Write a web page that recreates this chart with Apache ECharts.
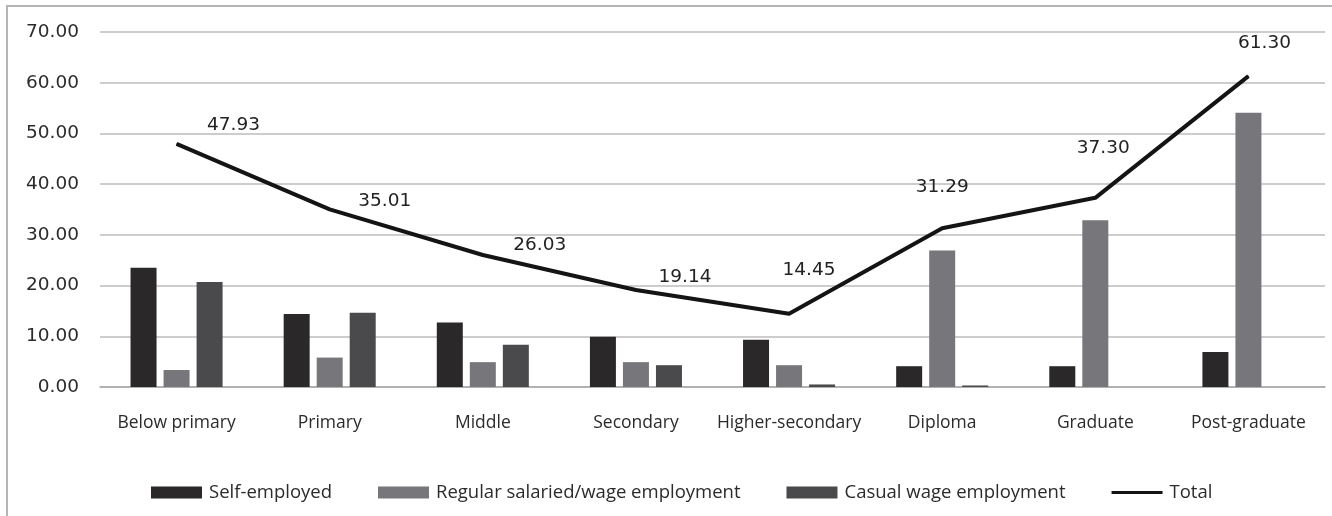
<!DOCTYPE html>
<html>
<head>
<meta charset="utf-8">
<script src="https://cdn.jsdelivr.net/npm/echarts@6/dist/echarts.min.js"></script>
<style>
  html, body { margin: 0; padding: 0; background: #fff; }
  #chart { width: 1332px; height: 516px; }
</style>
</head>
<body>
<div id="chart"></div>
<script>
// Employment share by education level
const categories = ['Below primary', 'Primary', 'Middle', 'Secondary', 'Higher-secondary', 'Diploma', 'Graduate', 'Post-graduate'];
const selfEmployed = [23.5, 14.4, 12.7, 9.9, 9.3, 4.1, 4.1, 6.9];
const regularSalaried = [3.35, 5.8, 4.9, 4.9, 4.3, 26.9, 32.9, 54.1];
const casualWage = [20.7, 14.65, 8.35, 4.3, 0.5, 0.3, 0, 0];
const total = [47.93, 35.01, 26.03, 19.14, 14.45, 31.29, 37.30, 61.30];
const yTicks = { min: 0, max: 70, step: 10 };

// where each Total value label sits relative to its point
const totalLabelShift = [[57, -19], [55, -8], [57, -10], [49, -13], [20, -44], [0, -41], [8, -50], [16, -33]];

const chart = echarts.init(document.getElementById('chart'));
const textColor = '#2b2b2b';

const barCommon = {
  type: 'bar',
  barWidth: 26,
  barGap: '27%',
  barCategoryGap: '40%'
};

chart.setOption({
  animation: false,
  backgroundColor: '#ffffff',
  graphic: [{
    type: 'polyline',
    shape: { points: [[7, 516], [7, 6], [1332, 6]] },
    style: { stroke: '#b5b5b5', lineWidth: 2, fill: null },
    silent: true
  }],
  grid: { left: 100, right: 7, top: 32, bottom: 129, containLabel: false },
  legend: {
    left: 146,
    top: 478,
    itemWidth: 51,
    itemHeight: 12,
    itemGap: 46,
    textStyle: { fontFamily: 'Open Sans', fontSize: 18.5, color: textColor, padding: [0, 0, 0, 2] },
    data: [
      { name: 'Self-employed', icon: 'rect' },
      { name: 'Regular salaried/wage employment', icon: 'rect' },
      { name: 'Casual wage employment', icon: 'rect' },
      { name: 'Total', icon: 'path://M0,0 L51,0 L51,3 L0,3 Z' }
    ]
  },
  xAxis: {
    type: 'category',
    data: categories,
    axisLine: { show: true, lineStyle: { color: '#a8a8a8', width: 1.5 } },
    axisTick: { show: false },
    axisLabel: { margin: 27, fontFamily: 'Open Sans', fontSize: 17.5, color: textColor, interval: 0 }
  },
  yAxis: {
    type: 'value',
    min: yTicks.min,
    max: yTicks.max,
    interval: yTicks.step,
    axisLine: { show: false },
    axisTick: { show: false },
    splitLine: { lineStyle: { color: '#bdbdbd', width: 1.5 } },
    axisLabel: {
      margin: 21,
      fontFamily: 'DejaVu Sans',
      fontSize: 18.5,
      color: textColor,
      formatter: v => v.toFixed(2)
    }
  },
  series: [
    Object.assign({}, barCommon, { name: 'Self-employed', data: selfEmployed, itemStyle: { color: '#2a2829' } }),
    Object.assign({}, barCommon, { name: 'Regular salaried/wage employment', data: regularSalaried, itemStyle: { color: '#77777b' } }),
    Object.assign({}, barCommon, { name: 'Casual wage employment', data: casualWage, itemStyle: { color: '#4a4a4d' } }),
    {
      name: 'Total',
      type: 'line',
      data: total.map((v, i) => ({
        value: v,
        label: { offset: totalLabelShift[i] }
      })),
      symbol: 'circle',
      symbolSize: 1,
      showSymbol: true,
      itemStyle: { color: '#141414' },
      lineStyle: { color: '#141414', width: 4 },
      z: 5,
      label: {
        show: true,
        position: 'inside',
        align: 'center',
        verticalAlign: 'middle',
        fontFamily: 'DejaVu Sans',
        fontSize: 18.5,
        color: '#222',
        formatter: p => p.value.toFixed(2)
      }
    }
  ]
});
</script>
</body>
</html>
